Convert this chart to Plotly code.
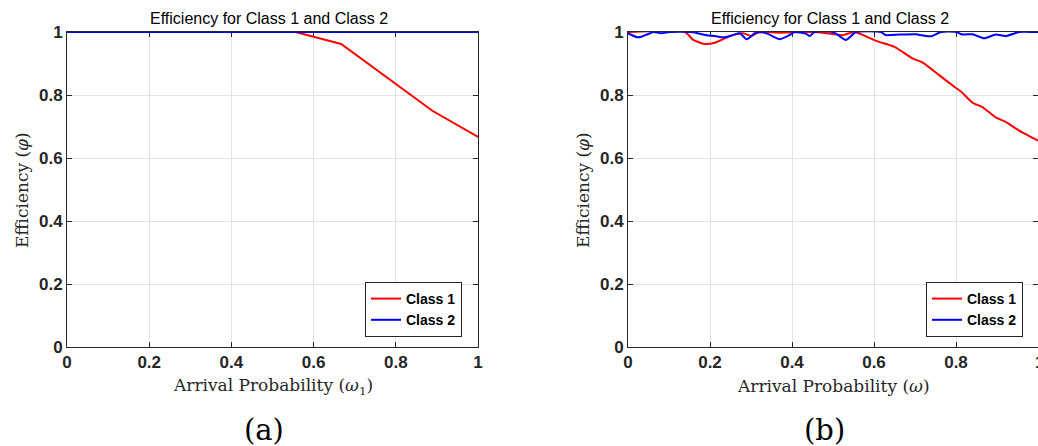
import plotly.graph_objects as go

# ---------------- data ----------------
# Panel (a)
a_x = [0.0, 0.111, 0.222, 0.333, 0.444, 0.556, 0.667, 0.778, 0.889, 1.0]
a_class1 = [1.0, 1.0, 1.0, 1.0, 1.0, 1.0, 0.962, 0.857, 0.75, 0.667]
a_class2 = [1.0, 1.0, 1.0, 1.0, 1.0, 1.0, 1.0, 1.0, 1.0, 1.0]

# Panel (b)
b_x1 = [0.0, 0.139, 0.159, 0.187, 0.212, 0.236, 0.256, 0.281, 0.301, 0.313, 0.326,
        0.370, 0.418, 0.451, 0.500, 0.524, 0.552, 0.605, 0.650, 0.694, 0.719,
        0.759, 0.796, 0.812, 0.840, 0.865, 0.897, 0.921, 0.954, 0.990, 1.0]
b_class1 = [1.0, 1.0, 0.975, 0.962, 0.966, 0.98, 0.99, 0.996, 0.987, 0.996, 1.0,
            0.998, 1.0, 1.0, 0.994, 0.99, 1.0, 0.972, 0.953, 0.916, 0.903,
            0.863, 0.826, 0.811, 0.776, 0.761, 0.729, 0.715, 0.687, 0.662, 0.655]

b_x2 = [0.0, 0.025, 0.054, 0.061, 0.082, 0.102, 0.155, 0.191, 0.212, 0.236, 0.255,
        0.273, 0.289, 0.309, 0.321, 0.341, 0.370, 0.394, 0.406, 0.435, 0.443,
        0.455, 0.500, 0.532, 0.556, 0.617, 0.629, 0.662, 0.702, 0.727, 0.742,
        0.763, 0.800, 0.816, 0.840, 0.869, 0.897, 0.921, 0.954, 0.990, 1.0]
b_class2 = [0.996, 0.983, 0.996, 1.0, 0.996, 1.0, 1.0, 0.99, 0.987, 0.983, 0.99,
            0.996, 0.977, 0.996, 1.0, 0.994, 0.977, 0.99, 1.0, 0.994, 0.987,
            1.0, 1.0, 0.975, 1.0, 1.0, 0.99, 0.992, 0.993, 0.987, 0.987,
            1.0, 1.0, 0.992, 0.993, 0.98, 0.992, 0.987, 1.0, 1.0, 1.0]

tick_vals = [0, 0.2, 0.4, 0.6, 0.8, 1]
tick_text = ["0", "0.2", "0.4", "0.6", "0.8", "1"]

title_text = "Efficiency for Class 1 and Class 2"
ylabel_text = "Efficiency (<i>φ</i>)"
xlabel_a = "Arrival Probability (<i>ω</i><sub>1</sub>)"
xlabel_b = "Arrival Probability (<i>ω</i>)"

# ---------------- figure ----------------
W, H = 1038, 446
RED, BLUE = "#ff0000", "#0000ff"
AX = "#262626"
SANS = "Liberation Sans, Arial, Helvetica, sans-serif"
SERIF = "DejaVu Serif, serif"

fig = go.Figure()
fig.add_trace(go.Scatter(x=a_x, y=a_class1, mode="lines", name="Class 1",
                         line=dict(color=RED, width=2), xaxis="x", yaxis="y", legend="legend"))
fig.add_trace(go.Scatter(x=a_x, y=a_class2, mode="lines", name="Class 2",
                         line=dict(color=BLUE, width=2), xaxis="x", yaxis="y", legend="legend"))
fig.add_trace(go.Scatter(x=b_x1, y=b_class1, mode="lines", name="Class 1",
                         line=dict(color=RED, width=2, shape="spline", smoothing=0.6),
                         xaxis="x2", yaxis="y2", legend="legend2"))
fig.add_trace(go.Scatter(x=b_x2, y=b_class2, mode="lines", name="Class 2",
                         line=dict(color=BLUE, width=2, shape="spline", smoothing=0.6),
                         xaxis="x2", yaxis="y2", legend="legend2"))

def px_x(p):
    return p / W

def px_y(p):
    return (H - p) / H

tickfont = dict(family=SANS, size=17, color=AX, weight="bold")
common_axis = dict(
    showline=True, linecolor=AX, linewidth=1, mirror="ticks",
    ticks="inside", ticklen=5, tickwidth=1, tickcolor=AX,
    showgrid=True, gridcolor="#e3e3e3", gridwidth=1, zeroline=False,
    tickvals=tick_vals, ticktext=tick_text,
    tickfont=tickfont,
    layer="below traces", fixedrange=True, automargin=False,
)

legend_common = dict(xanchor="right", yanchor="bottom",
                     bgcolor="white", bordercolor=AX, borderwidth=1,
                     font=dict(family=SANS, size=14, color="black", weight="bold"),
                     tracegroupgap=0, itemwidth=30)

ydom = [px_y(347), px_y(32)]
fig.update_layout(
    template="none",
    width=W, height=H,
    margin=dict(l=0, r=0, t=0, b=0, pad=0),
    paper_bgcolor="white", plot_bgcolor="white",
    showlegend=True,
    xaxis=dict(domain=[px_x(67), px_x(478)], range=[0, 1], anchor="y", **common_axis),
    yaxis=dict(domain=ydom, range=[0, 1], anchor="x", **common_axis),
    xaxis2=dict(domain=[px_x(628), 1.0], range=[0, 1], anchor="y2", **common_axis),
    yaxis2=dict(domain=ydom, range=[0, 1], anchor="x2", **common_axis),
    legend=dict(x=px_x(462), y=px_y(337), **legend_common),
    legend2=dict(x=px_x(1023), y=px_y(337), **legend_common),
)

centers = [(67 + 478) / 2, (628 + 1039) / 2]
xlabels = [xlabel_a, xlabel_b]
sublabels = ["(a)", "(b)"]
for cx, xl, sl in zip(centers, xlabels, sublabels):
    fig.add_annotation(x=px_x(cx - 4), y=px_y(18), xref="paper", yref="paper",
                       xanchor="center", yanchor="middle",
                       text=title_text, showarrow=False,
                       font=dict(family=SANS, size=16, color="black"))
    fig.add_annotation(x=px_x(cx), y=px_y(386), xref="paper", yref="paper",
                       xanchor="center", yanchor="middle",
                       text=xl, showarrow=False,
                       font=dict(family=SERIF, size=17, color=AX))
    fig.add_annotation(x=px_x(cx - 9), y=px_y(430), xref="paper", yref="paper",
                       xanchor="center", yanchor="middle",
                       text=sl, showarrow=False,
                       font=dict(family=SERIF, size=29, color="black"))

for lx in [22, 583]:
    fig.add_annotation(x=px_x(lx), y=px_y(190), xref="paper", yref="paper",
                       xanchor="center", yanchor="middle",
                       text=ylabel_text, showarrow=False, textangle=-90,
                       font=dict(family=SERIF, size=17, color=AX))

# tick label "1" of panel (b), which sits on the window's right edge
fig.add_annotation(x=px_x(1039), y=px_y(362), xref="paper", yref="paper",
                   xanchor="center", yanchor="middle",
                   text=tick_text[-1], showarrow=False, font=tickfont)

fig.write_html("out.html")
